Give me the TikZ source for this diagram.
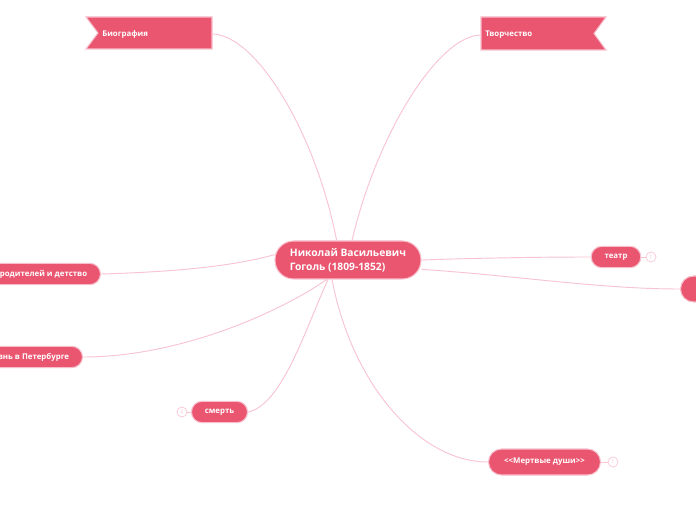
\documentclass[tikz,border=0pt]{standalone}
\usepackage{fontspec}
\setmainfont{Open Sans}
\usetikzlibrary{calc}
\definecolor{nodefill}{HTML}{EA5570}
\definecolor{nodeedge}{HTML}{F7BFCC}
\definecolor{linec}{HTML}{F8C4D2}
\tikzset{
  px/.style={x=0.75pt,y=-0.75pt},
  conn/.style={draw=linec,line width=0.7pt},
  topic/.style={fill=nodefill,draw=nodeedge,line width=0.8pt,rounded corners=8pt,text=white,
    font=\bfseries\fontsize{5.9}{7}\selectfont,inner xsep=10pt,minimum height=16pt},
  bigtopic/.style={topic,minimum height=19.5pt,rounded corners=9.75pt},
  mainbox/.style={fill=nodefill,draw=nodeedge,line width=0.8pt,rounded corners=14pt,text=white,
    font=\bfseries\fontsize{7.7}{10.5}\selectfont,align=left,inner xsep=11pt,minimum height=28.5pt,minimum width=109.5pt},
  badge/.style={circle,draw=linec,line width=0.5pt,inner sep=0pt,minimum size=7.5pt,
    text=linec,font=\fontsize{4}{4}\selectfont},
  bannerfill/.style={fill=nodefill,draw=nodeedge,line width=0.8pt},
  bannertext/.style={text=white,font=\bfseries\fontsize{5.9}{7}\selectfont,anchor=west,inner sep=0pt},
}
\begin{document}
\begin{tikzpicture}[px]
\useasboundingbox (0,0) rectangle (696,520);
\fill[white] (0,0) rectangle (696,520);
\clip (0,0) rectangle (696,520);

% central node
\node[mainbox] (c) at (348,260) {Николай Васильевич\\Гоголь (1809-1852)};

% banners
\path[bannerfill] (86,17) -- (212,17) -- (212,49) -- (86,49) -- (98,33) -- cycle;
\node[bannertext] (bio) at (102,34) {Биография};
\coordinate (bioE) at (212,34);
\path[bannerfill] (481,17) -- (606,17) -- (594,33.5) -- (606,50) -- (481,50) -- cycle;
\node[bannertext] (tvo) at (485,35) {Творчество};
\coordinate (tvoW) at (481,35);

% left topics
\node[topic,anchor=east] (rod) at (101,274) {родителей и детство};
\node[topic,anchor=east] (pet) at (83,357) {Жизнь в Петербурге};
\node[topic] (sm) at (219.5,412) {смерть};
\node[badge] (b2) at (182,412) {2};

% right topics
\node[topic] (tea) at (616,257) {театр};
\node[badge] (b1) at (651,257) {1};
\node[bigtopic,anchor=west,minimum width=40pt] (rt) at (680,289) {};
\node[bigtopic,minimum width=84pt] (md) at (544.5,462) {{<}\kern0pt{<}Мертвые души{>}\kern0pt{>}};
\node[badge] (b3) at (613,462) {1};

% connectors
\draw[conn] (bioE) .. controls (255,34) and (315,130) .. ([xshift=-8.5pt]c.north);
\draw[conn] (tvoW) .. controls (440,35) and (378,130) .. ([xshift=3pt]c.north);
\draw[conn] (rod.east) .. controls (170,272) and (230,267) .. ([yshift=4pt]c.west);
\draw[conn] (pet.east) .. controls (180,357) and (280,312) .. ([xshift=-16pt]c.south);
\draw[conn] (sm.east) .. controls (282,405) and (305,330) .. ([xshift=-15pt]c.south);
\draw[conn] (c.east) .. controls (480,258) and (540,257) .. (tea.west);
\draw[conn] ([yshift=-7pt]c.east) .. controls (520,276) and (600,289) .. (rt.west);
\draw[conn] ([xshift=-12pt]c.south) .. controls (352,385) and (420,462) .. (md.west);
\draw[conn] (tea.east) -- (b1.west);
\draw[conn] (md.east) -- (b3.west);
\draw[conn] (sm.west) -- (b2.east);
\end{tikzpicture}
\end{document}
